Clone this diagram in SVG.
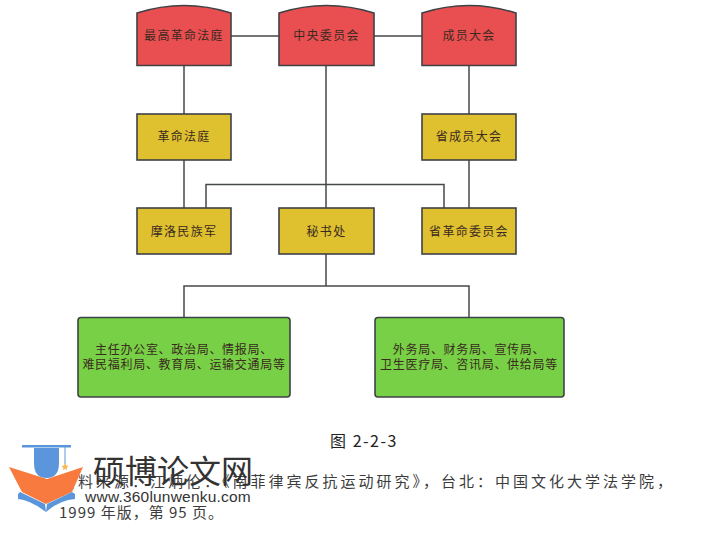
<svg xmlns="http://www.w3.org/2000/svg" width="705" height="535" viewBox="0 0 705 535">
<style>
text{font-family:"Noto Sans CJK SC","Liberation Sans",sans-serif;text-anchor:middle;fill:#3a2a22;font-size:12px;letter-spacing:1.300px}
.s{stroke:#3f4245;stroke-width:1.6}
.red{fill:#e94f50}
.yel{fill:#dfc02f}
.grn{fill:#77d045}
.c{fill:none;stroke:#45484a;stroke-width:1.5}
.cap{text-anchor:start;fill:#3c3c3c;font-size:15px;letter-spacing:3px}
</style>
<rect width="705" height="535" fill="#fff"/>
<g id="connectors">
<path class="c" d="M231 36H279M374 36H422M184 65V114M184 160V208M326 65V208M469 65V114M469 160V208M206 208V184.500H444V208M326 254V286M184 317V286H469V317"/>
</g>
<g id="n1"><path class="red s" d="M137 13Q184 -2 231 13V65.500H137Z"/><text x="184" y="40">最高革命法庭</text></g>
<g id="n2"><path class="red s" d="M279 13Q326.500 -2 374 13V65.500H279Z"/><text x="326.500" y="40">中央委员会</text></g>
<g id="n3"><path class="red s" d="M422 13Q469 -2 516 13V65.500H422Z"/><text x="469" y="40">成员大会</text></g>
<g id="n4"><rect class="yel s" x="137" y="114" width="94" height="46"/><text x="184" y="141">革命法庭</text></g>
<g id="n5"><rect class="yel s" x="422" y="114" width="94" height="46"/><text x="469" y="141">省成员大会</text></g>
<g id="n6"><rect class="yel s" x="137" y="208" width="94" height="46"/><text x="184" y="236">摩洛民族军</text></g>
<g id="n7"><rect class="yel s" x="279" y="208" width="95" height="46"/><text x="326.500" y="236">秘书处</text></g>
<g id="n8"><rect class="yel s" x="422" y="208" width="94" height="46"/><text x="469" y="236">省革命委员会</text></g>
<g id="n9"><rect class="grn s" x="78" y="317.500" width="212" height="79.500" rx="3"/><text x="184" y="354" style="letter-spacing:.7px">主任办公室、政治局、情报局、</text><text x="184" y="369" style="letter-spacing:.7px">难民福利局、教育局、运输交通局等</text></g>
<g id="n10"><rect class="grn s" x="375" y="317.500" width="189" height="79.500" rx="3"/><text x="469" y="354" style="letter-spacing:.7px">外务局、财务局、宣传局、</text><text x="469" y="369" style="letter-spacing:.7px">卫生医疗局、咨讯局、供给局等</text></g>
<text x="364" y="447" style="fill:#222;font-size:16px;letter-spacing:1.500px">图 2-2-3</text>
<text class="cap" x="60" y="487">资料来源：江炳伦：《南菲律宾反抗运动研究》，台北：中国文化大学法学院，</text>
<text class="cap" x="59" y="518" style="letter-spacing:1px">1999 年版，第 95 页。</text>
<g id="logo">
<path d="M34 448H59V463Q59 478 46.500 478Q34 478 34 463Z" fill="#5b96dc"/>
<rect x="22" y="445" width="49" height="2.500" fill="#5b96dc"/>
<path d="M65 447V464" stroke="#5b96dc" stroke-width="1"/>
<path d="M65 463L66.200 465.500L68.500 466L66.700 467.700L67.200 470L65 469L62.800 470L63.300 467.700L61.500 466L63.800 465.500Z" fill="#f5b95a"/>
<path d="M9 467L47 479L83 467L72 492L46 504L22 492Z" fill="#f87a3e"/>
<path d="M18 494L20 492L45 504L46 512Q30 500 18 499Z" fill="#5b96dc"/>
<path d="M75 494L72 492L47 504L46 512Q60 500 75 499Z" fill="#5b96dc"/>
<text x="173" y="483" style="fill:#333;font-size:32px;letter-spacing:0">硕博论文网</text>
<text x="168" y="502" style="fill:#333;font-size:15.500px;letter-spacing:.2px;font-family:'Liberation Sans',sans-serif">www.360lunwenku.com</text>
</g>
</svg>
